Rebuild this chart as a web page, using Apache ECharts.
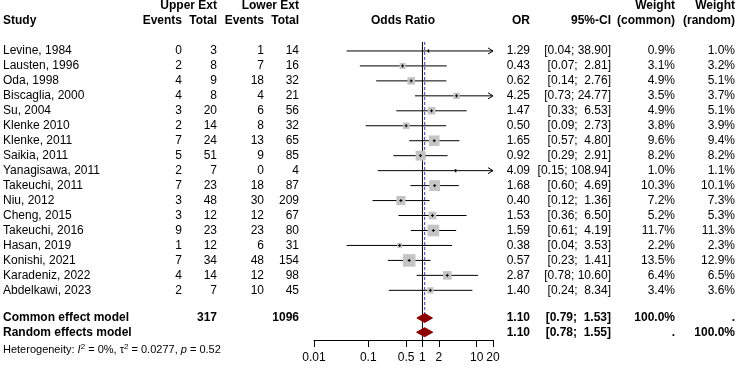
<!DOCTYPE html>
<html>
<head>
<meta charset="utf-8">
<script src="https://cdn.jsdelivr.net/npm/echarts@6/dist/echarts.min.js"></script>
<style>
  html, body { margin: 0; padding: 0; background: #fff; }
  #chart { width: 738px; height: 369px; }
</style>
</head>
<body>
<div id="chart"></div>
<script>
// study data
const studies = ["Levine, 1984", "Lausten, 1996", "Oda, 1998", "Biscaglia, 2000", "Su, 2004",
  "Klenke 2010", "Klenke, 2011", "Saikia, 2011", "Yanagisawa, 2011", "Takeuchi, 2011",
  "Niu, 2012", "Cheng, 2015", "Takeuchi, 2016", "Hasan, 2019", "Konishi, 2021",
  "Karadeniz, 2022", "Abdelkawi, 2023"];
const upperEvents = [0, 2, 4, 4, 3, 2, 7, 5, 2, 7, 3, 3, 9, 1, 7, 4, 2];
const upperTotal = [3, 8, 9, 8, 20, 14, 24, 51, 7, 23, 48, 12, 23, 12, 34, 14, 7];
const lowerEvents = [1, 7, 18, 4, 6, 8, 13, 9, 0, 18, 30, 12, 23, 6, 48, 12, 10];
const lowerTotal = [14, 16, 32, 21, 56, 32, 65, 85, 4, 87, 209, 67, 80, 31, 154, 98, 45];
const oddsRatio = [1.29, 0.43, 0.62, 4.25, 1.47, 0.50, 1.65, 0.92, 4.09, 1.68, 0.40, 1.53, 1.59, 0.38, 0.57, 2.87, 1.40];
const ciLower = [0.04, 0.07, 0.14, 0.73, 0.33, 0.09, 0.57, 0.29, 0.15, 0.60, 0.12, 0.36, 0.61, 0.04, 0.23, 0.78, 0.24];
const ciUpper = [38.90, 2.81, 2.76, 24.77, 6.53, 2.73, 4.80, 2.91, 108.94, 4.69, 1.36, 6.50, 4.19, 3.53, 1.41, 10.60, 8.34];
const weightCommon = [0.9, 3.1, 4.9, 3.5, 4.9, 3.8, 9.6, 8.2, 1.0, 10.3, 7.2, 5.2, 11.7, 2.2, 13.5, 6.4, 3.4];
const weightRandom = [1.0, 3.2, 5.1, 3.7, 5.1, 3.9, 9.4, 8.2, 1.1, 10.1, 7.3, 5.3, 11.3, 2.3, 12.9, 6.5, 3.6];

// pooled estimates
const modelNames = ["Common effect model", "Random effects model"];
const modelOR = [1.10, 1.10];
const modelLower = [0.79, 0.78];
const modelUpper = [1.53, 1.55];
const totalUpper = 317;
const totalLower = 1096;

const xTicks = [0.01, 0.1, 0.5, 1, 2, 10, 20];
const xMin = 0.01, xMax = 20;

// row positions on the y axis
const studyRows = studies.map((_, i) => i + 1);
const modelRows = [18.85, 19.8];

const FONT = "Liberation Sans, Arial, sans-serif";
const font = (size, bold) => (bold ? "bold " : "") + size + "px " + FONT;

const fmtCI = (lo, hi) => {
  let h = hi.toFixed(2);
  while (h.length < 5) h = " " + h;
  return "[" + lo.toFixed(2) + "; " + h + "]";
};

const chart = echarts.init(document.getElementById("chart"), null, { renderer: "canvas" });

// 文字欄位
const txt = (text, x, y, align, bold, size) => ({
  type: "text",
  x: x,
  y: y,
  style: {
    text: text,
    align: align,
    verticalAlign: "middle",
    font: font(size || 12, bold),
    fill: "#000",
  },
});

const rowTextSeries = {
  type: "custom",
  silent: true,
  data: studies.map((_, i) => [1, studyRows[i]]),
  renderItem: (params, api) => {
    const i = params.dataIndex;
    const y = api.coord([1, api.value(1)])[1];
    return {
      type: "group",
      children: [
        txt(studies[i], 3, y, "left"),
        txt(String(upperEvents[i]), 182, y, "right"),
        txt(String(upperTotal[i]), 217, y, "right"),
        txt(String(lowerEvents[i]), 264, y, "right"),
        txt(String(lowerTotal[i]), 299, y, "right"),
        txt(oddsRatio[i].toFixed(2), 530, y, "right"),
        txt(fmtCI(ciLower[i], ciUpper[i]), 611, y, "right"),
        txt(weightCommon[i].toFixed(1) + "%", 675, y, "right"),
        txt(weightRandom[i].toFixed(1) + "%", 735, y, "right"),
      ],
    };
  },
};

const modelTextSeries = {
  type: "custom",
  silent: true,
  data: modelNames.map((_, i) => [1, modelRows[i]]),
  renderItem: (params, api) => {
    const i = params.dataIndex;
    const y = api.coord([1, api.value(1)])[1];
    const kids = [
      txt(modelNames[i], 3, y, "left", true),
      txt(modelOR[i].toFixed(2), 530, y, "right", true),
      txt(fmtCI(modelLower[i], modelUpper[i]), 611, y, "right", true),
      txt(i === 0 ? "100.0%" : ".", 675, y, "right", true),
      txt(i === 1 ? "100.0%" : ".", 735, y, "right", true),
    ];
    if (i === 0) {
      kids.push(txt(String(totalUpper), 217, y, "right", true));
      kids.push(txt(String(totalLower), 299, y, "right", true));
    }
    return { type: "group", children: kids };
  },
};

// CI lines, squares
const studySeries = {
  type: "custom",
  silent: true,
  z: 5,
  data: studies.map((_, i) => [oddsRatio[i], studyRows[i], ciLower[i], ciUpper[i], weightCommon[i]]),
  renderItem: (params, api) => {
    const row = api.value(1);
    const c = api.coord([api.value(0), row]);
    const lo = api.coord([Math.max(api.value(2), xMin), row]);
    const clipped = api.value(3) > xMax;
    const hi = api.coord([Math.min(api.value(3), xMax), row]);
    const s = 3.4 * Math.sqrt(api.value(4));
    const kids = [
      { type: "line", shape: { x1: lo[0], y1: lo[1], x2: hi[0], y2: hi[1] },
        style: { stroke: "#000", lineWidth: 1 } },
      { type: "rect", shape: { x: c[0] - s / 2, y: c[1] - s / 2, width: s, height: s },
        style: { fill: "#c4c4c4" } },
      { type: "line", shape: { x1: c[0] - 1.5, y1: c[1], x2: c[0] + 1.5, y2: c[1] },
        style: { stroke: "#000", lineWidth: 1 } },
      { type: "line", shape: { x1: c[0], y1: c[1] - 1.5, x2: c[0], y2: c[1] + 1.5 },
        style: { stroke: "#000", lineWidth: 1 } },
    ];
    if (clipped) {
      kids.push({
        type: "polyline",
        shape: { points: [[hi[0] - 5, hi[1] - 3], [hi[0], hi[1]], [hi[0] - 5, hi[1] + 3]] },
        style: { stroke: "#000", lineWidth: 1, fill: null },
      });
    }
    return { type: "group", children: kids };
  },
};

const diamondSeries = {
  type: "custom",
  silent: true,
  z: 6,
  data: modelNames.map((_, i) => [modelOR[i], modelRows[i], modelLower[i], modelUpper[i]]),
  renderItem: (params, api) => {
    const row = api.value(1);
    const c = api.coord([api.value(0), row]);
    const lo = api.coord([api.value(2), row]);
    const hi = api.coord([api.value(3), row]);
    const h = 4.5;
    return {
      type: "polygon",
      shape: { points: [[lo[0], c[1]], [c[0], c[1] - h], [hi[0], c[1]], [c[0], c[1] + h]] },
      style: { fill: "#8b0000", stroke: "#8b0000", lineWidth: 1 },
    };
  },
};

const option = {
  animation: false,
  backgroundColor: "#fff",
  grid: { left: 314, right: 245, top: 36, bottom: 29 },
  xAxis: {
    type: "log",
    logBase: 10,
    min: xMin,
    max: xMax,
    axisLine: { show: true, onZero: false, lineStyle: { color: "#000", width: 1 } },
    axisTick: { show: true, customValues: xTicks, length: 7, lineStyle: { color: "#000" } },
    axisLabel: {
      customValues: xTicks,
      color: "#000",
      fontSize: 12,
      fontFamily: FONT,
      margin: 12,
      formatter: (v) => String(Number(v.toPrecision(3))),
    },
    splitLine: { show: false },
    minorTick: { show: false },
  },
  yAxis: { type: "value", inverse: true, min: 0, max: 20.32, show: false },
  graphic: [
    txt("Study", 3, 21, "left", true),
    txt("Upper Ext", 217, 6, "right", true),
    txt("Lower Ext", 299, 6, "right", true),
    txt("Events", 182, 21, "right", true),
    txt("Total", 217, 21, "right", true),
    txt("Events", 264, 21, "right", true),
    txt("Total", 299, 21, "right", true),
    txt("Odds Ratio", 403, 21, "center", true),
    txt("OR", 530, 21, "right", true),
    txt("95%-CI", 611, 21, "right", true),
    txt("Weight", 675, 6, "right", true),
    txt("(common)", 675, 21, "right", true),
    txt("Weight", 735, 6, "right", true),
    txt("(random)", 735, 21, "right", true),
    {
      type: "text",
      x: 3,
      y: 350,
      style: {
        text: "Heterogeneity: {i|I}{s|2} = 0%, τ{s|2} = 0.0277, {i|p} = 0.52",
        verticalAlign: "middle",
        font: font(11),
        fill: "#000",
        rich: {
          i: { font: "italic 11px " + FONT, fill: "#000" },
          s: { font: "8px " + FONT, fill: "#000", padding: [0, 0, 6, 0] },
        },
      },
    },
  ],
  series: [
    {
      type: "line",
      silent: true,
      symbol: "none",
      data: [[1, 0.4], [1, 20.32]],
      lineStyle: { color: "#000", width: 1 },
      z: 3,
    },
    {
      type: "line",
      silent: true,
      symbol: "none",
      data: [[modelOR[0], 0.4], [modelOR[0], modelRows[0] - 0.3]],
      lineStyle: { color: "#3a3aa0", width: 1, type: [3, 2] },
      z: 3,
    },
    studySeries,
    diamondSeries,
    rowTextSeries,
    modelTextSeries,
  ],
};

chart.setOption(option);
</script>
</body>
</html>
